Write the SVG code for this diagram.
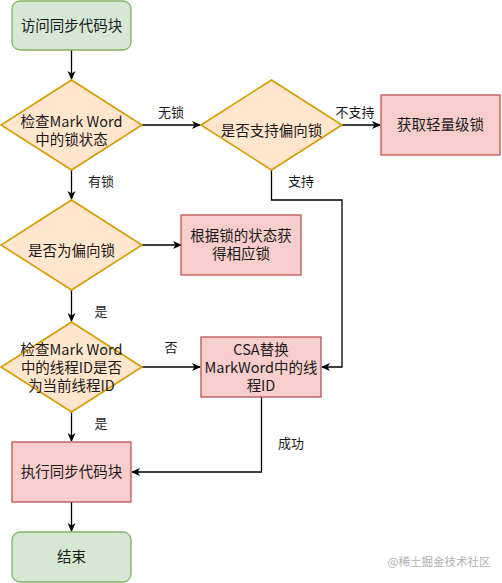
<svg xmlns="http://www.w3.org/2000/svg" width="502" height="583" viewBox="0 0 502 583">
<style>
text{font-family:"Noto Sans CJK SC","Liberation Sans",sans-serif;fill:#1a1a1a;text-anchor:middle}
.n{font-size:14.5px}
.l{font-size:13px}
.g{fill:#d5e8d4;stroke:#82b366;stroke-width:1.3}
.d{fill:#ffe6cc;stroke:#d79b00;stroke-width:1.6}
.r{fill:#f8cecc;stroke:#b85450;stroke-width:1.3}
.c{fill:none;stroke:#000;stroke-width:1.3;marker-end:url(#a)}
</style>
<defs>
<marker id="a" markerWidth="10" markerHeight="10" refX="8" refY="5" orient="auto" markerUnits="userSpaceOnUse">
<path d="M0,1 L9,5 L0,9 L2.5,5 Z" fill="#000"/>
</marker>
</defs>
<g id="connectors">
<path class="c" d="M71.5,50 V79"/>
<path class="c" d="M142,125 H200"/>
<path class="c" d="M342,125 H380"/>
<path class="c" d="M71.5,170 V199"/>
<path class="c" d="M271.5,170 V200 H342 V367 H322"/>
<path class="c" d="M142,245 H181"/>
<path class="c" d="M71.5,290 V321"/>
<path class="c" d="M142,367 H200"/>
<path class="c" d="M71.5,412 V441"/>
<path class="c" d="M261.5,397 V472 H132"/>
<path class="c" d="M71.5,502 V531"/>
</g>
<g id="labels">
<text class="l" x="171" y="117">无锁</text>
<text class="l" x="355" y="117">不支持</text>
<text class="l" x="101" y="186">有锁</text>
<text class="l" x="301" y="186">支持</text>
<text class="l" x="101" y="316">是</text>
<text class="l" x="171" y="352">否</text>
<text class="l" x="101" y="428">是</text>
<text class="l" x="291" y="448">成功</text>
</g>
<g id="start"><rect class="g" x="12" y="1" width="119" height="49" rx="8"/><text class="n" x="71.5" y="31">访问同步代码块</text></g>
<g id="check-markword"><path class="d" d="M71.5,80 L142,125 L71.5,170 L1,125 Z"/><text class="n" x="71.5" y="127">检查Mark Word</text><text class="n" x="71.5" y="145">中的锁状态</text></g>
<g id="support-biased"><path class="d" d="M271.5,80 L342,125 L271.5,170 L201,125 Z"/><text class="n" x="271.5" y="136">是否支持偏向锁</text></g>
<g id="lightweight"><rect class="r" x="381" y="95" width="119" height="60"/><text class="n" x="440.5" y="130">获取轻量级锁</text></g>
<g id="is-biased"><path class="d" d="M71.5,200 L142,245 L71.5,290 L1,245 Z"/><text class="n" x="71.5" y="256">是否为偏向锁</text></g>
<g id="by-state"><rect class="r" x="181" y="215" width="120" height="60"/><text class="n" x="241" y="241">根据锁的状态获</text><text class="n" x="241" y="259">得相应锁</text></g>
<g id="check-thread"><path class="d" d="M71.5,322 L142,367 L71.5,412 L1,367 Z"/><text class="n" x="71.5" y="355">检查Mark Word</text><text class="n" x="71.5" y="373">中的线程ID是否</text><text class="n" x="71.5" y="391">为当前线程ID</text></g>
<g id="csa"><rect class="r" x="201" y="337" width="120" height="60"/><text class="n" x="261" y="355">CSA替换</text><text class="n" x="261" y="373">MarkWord中的线</text><text class="n" x="261" y="391">程ID</text></g>
<g id="execute"><rect class="r" x="12" y="442" width="119" height="60"/><text class="n" x="71.5" y="477">执行同步代码块</text></g>
<g id="end"><rect class="g" x="12" y="532" width="119" height="50" rx="8"/><text class="n" x="71.5" y="562">结束</text></g>
<text x="439" y="566" style="font-size:11.5px;fill:#b0b0b0">@稀土掘金技术社区</text>
</svg>
